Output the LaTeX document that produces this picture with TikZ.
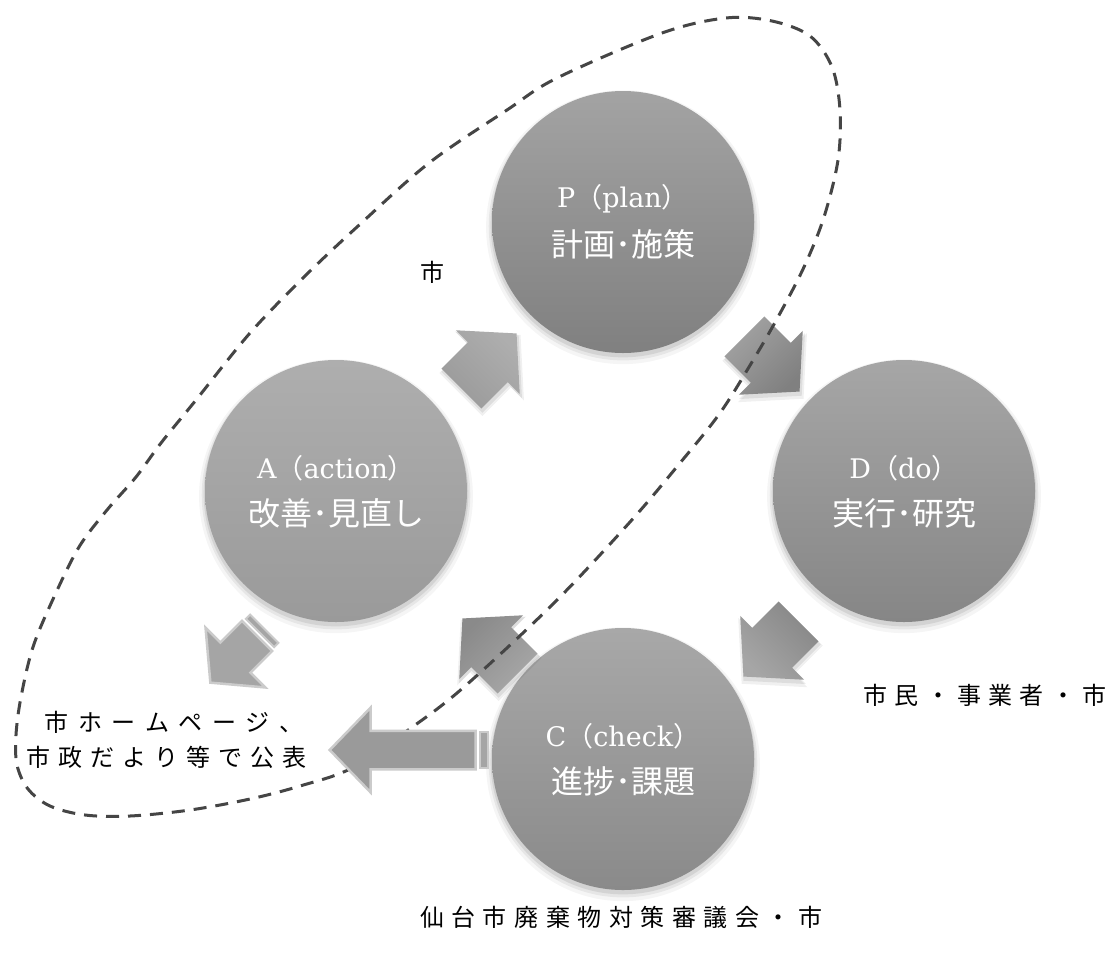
\documentclass[tikz,border=0pt]{standalone}
\usepackage{fontspec}
\setmainfont{DejaVu Serif}
\newfontfamily\jp{Noto Sans CJK JP}
\usetikzlibrary{shapes.arrows,calc,shadows}
\makeatletter
% set every character of #2 in a cell of width #1
\newcommand\pitchtext[2]{\@tfor\pt@ch:=#2\do{\makebox[#1]{\pt@ch}}}
\makeatother
\definecolor{pTop}{HTML}{A3A3A3}\definecolor{pBot}{HTML}{808080}
\definecolor{aTop}{HTML}{AEAEAE}\definecolor{aBot}{HTML}{9A9A9A}
\definecolor{dTop}{HTML}{A6A6A6}\definecolor{dBot}{HTML}{868686}
\definecolor{cTop}{HTML}{A8A8A8}\definecolor{cBot}{HTML}{8A8A8A}
\definecolor{outline}{HTML}{454545}
\definecolor{rim}{HTML}{CBCBCB}
\definecolor{flat}{HTML}{A5A5A5}
\definecolor{flatdark}{HTML}{9A9A9A}
\begin{document}
\begin{tikzpicture}[x=1pt,y=-1pt,
  softshade/.style={
    general shadow={fill=black,opacity=.04,shadow scale=1.045,shadow yshift=-5pt},
    general shadow={fill=black,opacity=.06,shadow scale=1.025,shadow yshift=-4pt},
    general shadow={fill=black,opacity=.08,shadow scale=1.01,shadow yshift=-3pt}},
  smallshade/.style={
    general shadow={fill=black,opacity=.06,shadow scale=1.08,shadow xshift=1pt,shadow yshift=-4pt},
    general shadow={fill=black,opacity=.08,shadow scale=1.03,shadow xshift=1pt,shadow yshift=-3pt}},
  stage/.style={circle,minimum size=262pt,inner sep=0pt,softshade},
  stagetext/.style={text=white,inner sep=0pt,font=\fontsize{27}{27}\selectfont},
  stagejp/.style={text=white,inner sep=0pt,font=\jp\fontsize{32}{32}\selectfont},
  cyc/.style={single arrow,minimum height=78pt,inner xsep=0pt,inner ysep=28pt,
    single arrow head extend=17pt,single arrow tip angle=96,smallshade},
  pubarrow/.style={single arrow,fill=flat,draw=rim,line width=2.5pt},
  tailstripe/.style={fill=flat,draw=rim,line width=2pt},
  lbl/.style={inner sep=0pt,font=\jp\fontsize{24}{35}\selectfont,text=black},
  boundary/.style={draw=outline,line width=3pt,dash pattern=on 13pt off 9pt}]
\useasboundingbox (0,0) rectangle (1115,964);
\fill[white] (0,0) rectangle (1115,964);

% the four stages of the cycle
\node[stage,top color=pTop,bottom color=pBot] (P) at (623,222) {};
\node[stage,top color=aTop,bottom color=aBot] (A) at (336,491) {};
\node[stage,top color=dTop,bottom color=dBot] (D) at (904,491) {};
\node[stage,top color=cTop,bottom color=cBot] (C) at (623,759) {};

\node[stagetext] (Pa) at ($(P)+(0,-23)$) {P{\jp （}plan{\jp ）}};
\node[stagejp]   (Pb) at ($(P)+(0,22)$) {計画･施策};
\node[stagetext] (Aa) at ($(A)+(0,-23)$) {A{\jp （}action{\jp ）}};
\node[stagejp]   (Ab) at ($(A)+(0,22)$) {改善･見直し};
\node[stagetext] (Da) at ($(D)+(0,-23)$) {D{\jp （}do{\jp ）}};
\node[stagejp]   (Db) at ($(D)+(0,22)$) {実行･研究};
\node[stagetext] (Ca) at ($(C)+(0,-23)$) {C{\jp （}check{\jp ）}};
\node[stagejp]   (Cb) at ($(C)+(0,22)$) {進捗･課題};

% arrows between the stages
\coordinate (O) at ($(A)!.5!(D)$);
\node[cyc,rotate=45,top color=aTop,bottom color=aBot,shading angle=-45] (a1) at ($(O)+(-140,-121)$) {};
\node[cyc,rotate=-45,top color=pTop,bottom color=pBot,shading angle=45] (a2) at ($(O)+(143,-136)$) {};
\node[cyc,rotate=-135,top color=dTop,bottom color=dBot,shading angle=135] (a3) at ($(O)+(160,149)$) {};
\node[cyc,rotate=135,top color=cTop,bottom color=cBot,shading angle=-135] (a4) at ($(O)+(-121,164)$) {};

% boundary of what the city handles
\draw[boundary] plot[smooth cycle,tension=.55] coordinates {
 (557,78) (662,33) (726,18) (772,21) (810,36) (832,67) (840,110) (838,160)
 (824,217) (804,267) (778,317) (752,362) (720,413) (680,463) (630,522)
 (554,603) (464,687) (411,728) (352,768) (300,786) (250,799) (190,810)
 (130,816) (85,815) (50,806) (28,789) (17,765) (16,735) (21,697)
 (33,647) (54,597) (79,547) (107,510) (136,477) (161,443) (196,400)
 (250,333) (304,277) (357,227) (429,163) (507,110)};

% publication arrows
\node[pubarrow,rotate=-135,minimum height=66pt,inner xsep=0pt,inner ysep=20pt,
  single arrow head extend=21pt,single arrow tip angle=100] (a5) at ($(A)+(-96,162)$) {};
\draw[tailstripe,shift={(a5.tail)},rotate=-135] (-3pt,-20pt) rectangle (-9pt,20pt);
\node[pubarrow,fill=flatdark,rotate=180,minimum height=146pt,inner xsep=0pt,inner ysep=18pt,
  single arrow head extend=23pt,single arrow tip angle=92] (a6) at ($(C)+(-211,-9)$) {};
\draw[tailstripe,shift={(a6.tail)},rotate=180] (-3pt,-18pt) rectangle (-11pt,18pt);

% actors and publication
\node[lbl] (tCity) at (432,272) {市};
\node[lbl] (tDo) at (985,695) {\pitchtext{31.25pt}{市民・事業者・市}};
\node[lbl] (tCheck) at (621,917) {\pitchtext{31.5pt}{仙台市廃棄物対策審議会・市}};
\node[lbl,anchor=west] (tPub1) at (40,722) {\pitchtext{33.5pt}{市ホームページ、}};
\node[lbl,anchor=west] (tPub2) at (22,757) {\pitchtext{32pt}{市政だより等で公表}};
\end{tikzpicture}
\end{document}
